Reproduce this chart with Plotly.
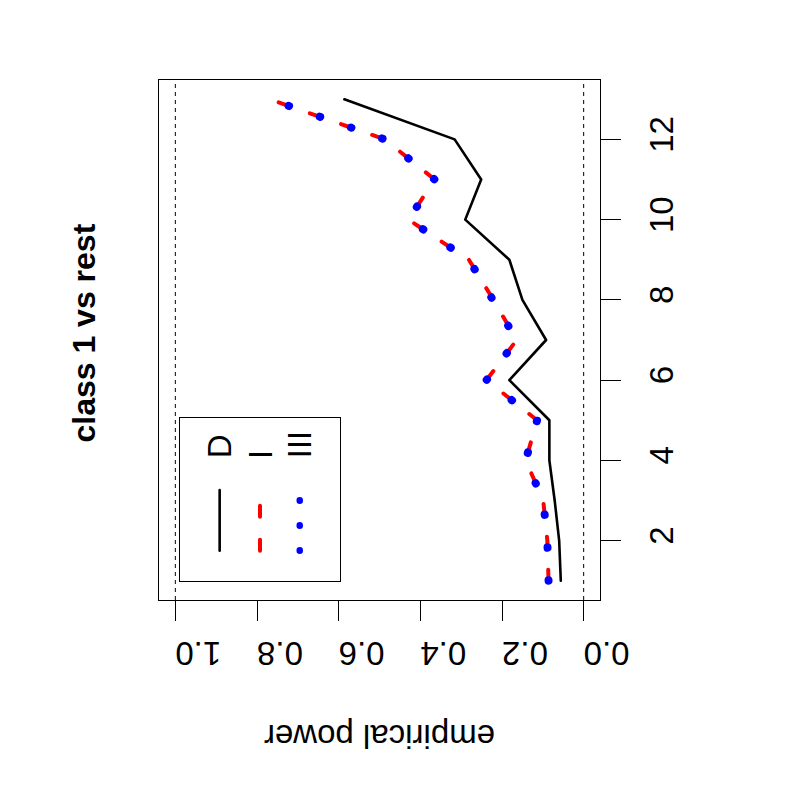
import plotly.graph_objects as go

# ---- data ----
index_vals = [1, 2, 3, 4, 5, 6, 7, 8, 9, 10, 11, 12, 13]
power_D = [0.056, 0.060, 0.071, 0.084, 0.084, 0.182, 0.092, 0.150, 0.182, 0.290, 0.251, 0.316, 0.586]
power_I = [0.086, 0.089, 0.099, 0.142, 0.114, 0.238, 0.164, 0.221, 0.281, 0.429, 0.365, 0.487, 0.769]
power_III = [0.086, 0.089, 0.099, 0.142, 0.114, 0.238, 0.164, 0.221, 0.281, 0.429, 0.365, 0.487, 0.769]
ref_lines = [0.0, 1.0]
power_ticks = [0.0, 0.2, 0.4, 0.6, 0.8, 1.0]
power_ticktext = ["0.0", "0.2", "0.4", "0.6", "0.8", "1.0"]
index_ticks = [2, 4, 6, 8, 10, 12]
index_ticktext = ["2", "4", "6", "8", "10", "12"]
legend_names = ["D", "I", "III"]
title_text = "class 1 vs rest"
ylab_text = "empirical power"

FONT = "Liberation Sans, Arial, Helvetica, sans-serif"
OFF = 8  # page body margin offset

fig = go.Figure()

# main series
fig.add_trace(go.Scatter(x=power_D, y=index_vals, mode="lines",
                         line=dict(color="black", width=2.6), showlegend=False))
fig.add_trace(go.Scatter(x=power_I, y=index_vals, mode="lines",
                         line=dict(color="#FF0000", width=4, dash="11px,22px"), showlegend=False))
fig.add_trace(go.Scatter(x=power_III, y=index_vals, mode="lines",
                         line=dict(color="#0000FF", width=8, dash="0.5px,32.5px"), showlegend=False))

# reference dashed lines
for v in ref_lines:
    fig.add_shape(type="line", xref="x", yref="paper", x0=v, x1=v, y0=0, y1=1,
                  line=dict(color="black", width=1, dash="4px,4px"))

W, H = 800 - 2 * OFF, 800 - 2 * OFF
L, T = 159.4 - OFF, 80 - OFF
pw, ph = 440.6, 520
R, B = W - L - pw, H - T - ph

def px_x(v):
    return v - OFF

def px_y(v):
    return v - OFF

# legend drawn in its own small subplot (screen-pixel coordinates of the reference)
leg_cols = [220, 260.3, 300]
leg_styles = [dict(color="black", width=2.6),
              dict(color="#FF0000", width=4, dash="11px,23px"),
              dict(color="#0000FF", width=6.5, dash="0.5px,24.5px")]
for cx, st in zip(leg_cols, leg_styles):
    fig.add_trace(go.Scatter(x=[cx, cx], y=[550.7, 490], mode="lines", line=st,
                             xaxis="x2", yaxis="y2", showlegend=False, hoverinfo="skip"))
for cx, name in zip(leg_cols, legend_names):
    fig.add_annotation(text=name, x=cx, y=460.5, xref="x2", yref="y2",
                       xanchor="center", yanchor="bottom", textangle=-90, showarrow=False,
                       font=dict(family=FONT, size=33, color="black"))

fig.update_layout(
    width=W, height=H,
    margin=dict(l=L, r=R, t=T, b=B, pad=0),
    paper_bgcolor="white", plot_bgcolor="white",
    showlegend=False,
    xaxis=dict(range=[1.04, -0.04], showgrid=False, zeroline=False,
               showline=True, mirror=True, linecolor="black", linewidth=1,
               ticks="outside", ticklen=20, tickwidth=1, tickcolor="black",
               tickvals=power_ticks, ticktext=power_ticktext, tickangle=180,
               ticklabelstandoff=14,
               tickfont=dict(family=FONT, size=33, color="black"),
               automargin=False, domain=[0, 1]),
    yaxis=dict(range=[0.52, 13.48], showgrid=False, zeroline=False, side="right",
               showline=True, mirror=True, linecolor="black", linewidth=1,
               ticks="outside", ticklen=20, tickwidth=1, tickcolor="black",
               tickvals=index_ticks, ticktext=index_ticktext, tickangle=-90,
               ticklabelstandoff=12,
               tickfont=dict(family=FONT, size=33, color="black"),
               automargin=False, domain=[0, 1]),
    xaxis2=dict(range=[180, 340.7],
                domain=[(px_x(180) - L) / pw, (px_x(340.7) - L) / pw],
                anchor="y2", showgrid=False, zeroline=False, showticklabels=False,
                showline=True, mirror=True, linecolor="black", linewidth=1, ticks=""),
    yaxis2=dict(range=[580.7, 417.7],
                domain=[(T + ph - px_y(580.7)) / ph, (T + ph - px_y(417.7)) / ph],
                anchor="x2", showgrid=False, zeroline=False, showticklabels=False,
                showline=True, mirror=True, linecolor="black", linewidth=1, ticks=""),
)

# title (rotated)
fig.add_annotation(text="<b>" + title_text + "</b>", xref="paper", yref="paper",
                   x=(px_x(84) - L) / pw, y=(T + ph - px_y(333)) / ph,
                   xanchor="center", yanchor="middle",
                   textangle=-90, showarrow=False,
                   font=dict(family=FONT, size=32, color="black"))
# axis label (upside down)
fig.add_annotation(text=ylab_text, xref="paper", yref="paper",
                   x=0.5, y=(T + ph - px_y(737)) / ph, xanchor="center", yanchor="middle",
                   textangle=180, showarrow=False,
                   font=dict(family=FONT, size=33, color="black"))

post = ("document.querySelectorAll('.scatterlayer .js-line').forEach(function(p){"
        "p.style.strokeLinecap='round';p.style.strokeLinejoin='round';});")
fig.write_html("out.html", post_script=post)
